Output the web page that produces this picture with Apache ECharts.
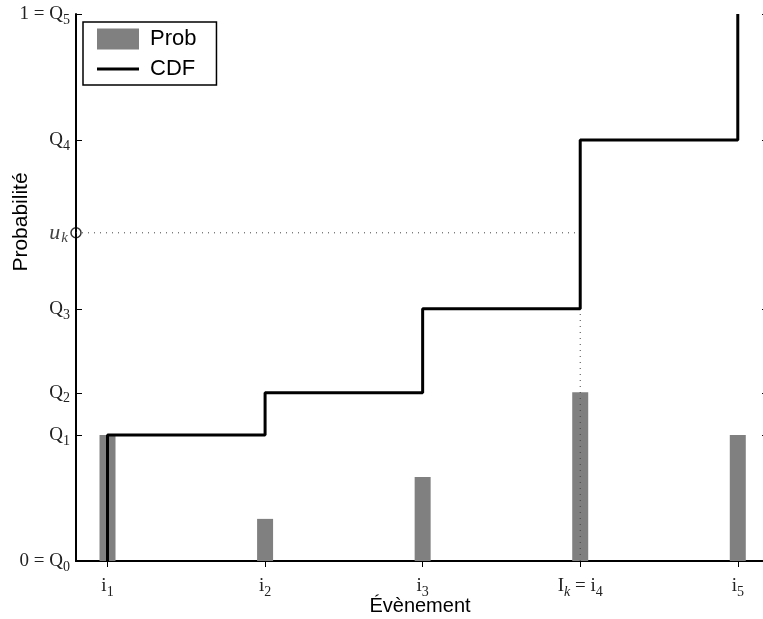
<!DOCTYPE html>
<html><head><meta charset="utf-8">
<script src="https://cdn.jsdelivr.net/npm/echarts@6/dist/echarts.min.js"></script>
<style>html,body{margin:0;padding:0;background:#fff}#c{width:763px;height:619px}</style>
</head><body><div id="c"></div>
<script>
// ---- data ----
const events = [1, 2, 3, 4, 5];
const eventLabels = ['{b|i}{s|1}', '{b|i}{s|2}', '{b|i}{s|3}', '{b|I}{si|k}{b| = i}{s|4}', '{b|i}{s|5}'];
const prob = [0.2305, 0.0770, 0.1535, 0.3085, 0.2305];
const cdf = [0.2305, 0.3075, 0.4610, 0.7695, 1.0];
const qTicks = [0, 0.2305, 0.3075, 0.4610, 0.6, 0.7695, 1.0];
const qLabels = ['{b|0 = Q}{s|0}', '{b|Q}{s|1}', '{b|Q}{s|2}', '{b|Q}{s|3}', '{bi|u}{sk|k}', '{b|Q}{s|4}', '{b|1 = Q}{s|5}'];
const uk = 0.6;
const sampledEvent = 4;
const xRange = [0.8, 5.16];

// ---- build ----
const stepPts = [];
for (let i = 0; i < events.length; i++) {
  stepPts.push([events[i], i === 0 ? 0 : cdf[i - 1]]);
  stepPts.push([events[i], cdf[i]]);
  if (i < events.length - 1) stepPts.push([events[i + 1], cdf[i]]);
}
const barData = events.map((e, i) => [e, prob[i]]);
const prevQ = cdf[events.indexOf(sampledEvent) - 1];

const serif = 'Liberation Serif';
const rich = {
  b: { fontFamily: serif, fontSize: 19, color: '#222', lineHeight: 26, verticalAlign: 'middle' },
  bi: { fontFamily: serif, fontSize: 22, fontStyle: 'italic', color: '#444', lineHeight: 26, verticalAlign: 'middle' },
  s: { fontFamily: serif, fontSize: 14, color: '#222', lineHeight: 13, verticalAlign: 'bottom' },
  si: { fontFamily: serif, fontSize: 14, fontStyle: 'italic', color: '#222', lineHeight: 13, verticalAlign: 'bottom' },
  sk: { fontFamily: serif, fontSize: 15, fontStyle: 'italic', color: '#444', lineHeight: 13, verticalAlign: 'bottom', padding: [0, 2, 0, 1] }
};
const qLabelMap = {};
qTicks.forEach((v, i) => qLabelMap[v] = qLabels[i]);
const evLabelMap = {};
events.forEach((v, i) => evLabelMap[v] = eventLabels[i]);

const axisLine = { show: true, lineStyle: { color: '#000', width: 2 } };
const chart = echarts.init(document.getElementById('c'));
chart.setOption({
  animation: false,
  backgroundColor: '#fff',
  grid: { left: 76, right: 0, top: 14, bottom: 58, containLabel: false },
  legend: {
    left: 83, top: 22, orient: 'vertical',
    data: [{ name: 'Prob', icon: 'rect' }, { name: 'CDF', icon: 'path://M0,0H42V3H0Z' }],
    backgroundColor: '#fff', borderColor: '#000', borderWidth: 1.5,
    padding: [6, 20, 5, 14], itemGap: 8, itemWidth: 42, itemHeight: 21,
    textStyle: { fontFamily: 'Liberation Sans', fontSize: 22, color: '#000', padding: [0, 0, 0, 6] }
  },
  xAxis: [{
    type: 'value', min: xRange[0], max: xRange[1], position: 'bottom',
    axisLine: axisLine, splitLine: { show: false },
    axisTick: { show: true, inside: true, length: 6, customValues: events, lineStyle: { color: '#000', width: 1 } },
    axisLabel: { customValues: events, margin: 12, formatter: v => evLabelMap[v] || '', rich: rich }
  }, {
    type: 'value', min: xRange[0], max: xRange[1], position: 'top',
    axisLine: axisLine, splitLine: { show: false },
    axisTick: { show: true, inside: true, length: 6, customValues: events, lineStyle: { color: '#000', width: 1 } },
    axisLabel: { show: false }
  }],
  yAxis: [{
    type: 'value', min: 0, max: 1, position: 'left',
    axisLine: axisLine, splitLine: { show: false },
    axisTick: { show: true, inside: true, length: 6, customValues: qTicks.filter(v => v !== uk), lineStyle: { color: '#000', width: 1 } },
    axisLabel: { customValues: qTicks, margin: 6, formatter: v => qLabelMap[v] || '', rich: rich }
  }, {
    type: 'value', min: 0, max: 1, position: 'right',
    axisLine: { show: false }, splitLine: { show: false },
    axisTick: { show: true, inside: true, length: 1, customValues: qTicks.filter(v => v !== uk), lineStyle: { color: '#000', width: 1 } },
    axisLabel: { show: false }
  }],
  series: [{
    name: 'Prob', type: 'bar', data: barData, barWidth: 16,
    itemStyle: { color: '#808080' }, z: 2
  }, {
    name: 'guide-h', type: 'line', data: [[xRange[0], uk], [sampledEvent, uk]],
    symbol: 'none', lineStyle: { color: '#444', width: 1, type: [1, 5] }, z: 3, silent: true
  }, {
    name: 'guide-v', type: 'line', data: [[sampledEvent, 0], [sampledEvent, prevQ]],
    symbol: 'none', lineStyle: { color: '#444', width: 1, type: [1, 5] }, z: 3, silent: true
  }, {
    name: 'CDF', type: 'line', data: stepPts, symbol: 'none',
    lineStyle: { color: '#000', width: 3 }, itemStyle: { color: '#000' }, z: 4, clip: false
  }, {
    name: 'uk', type: 'scatter', data: [[xRange[0], uk]], symbol: 'circle', symbolSize: 10,
    itemStyle: { color: 'rgba(0,0,0,0)', borderColor: '#000', borderWidth: 1.5 }, z: 6, clip: false
  }],
  graphic: [{
    type: 'text', x: 21, y: 222, rotation: Math.PI / 2,
    style: { text: 'Probabilité', fontFamily: 'Liberation Sans', fontSize: 21, fill: '#000', align: 'center', verticalAlign: 'middle' }
  }, {
    type: 'text', x: 420, y: 606,
    style: { text: 'Évènement', fontFamily: 'Liberation Sans', fontSize: 20, fill: '#000', align: 'center', verticalAlign: 'middle' }
  }]
});
</script></body></html>
